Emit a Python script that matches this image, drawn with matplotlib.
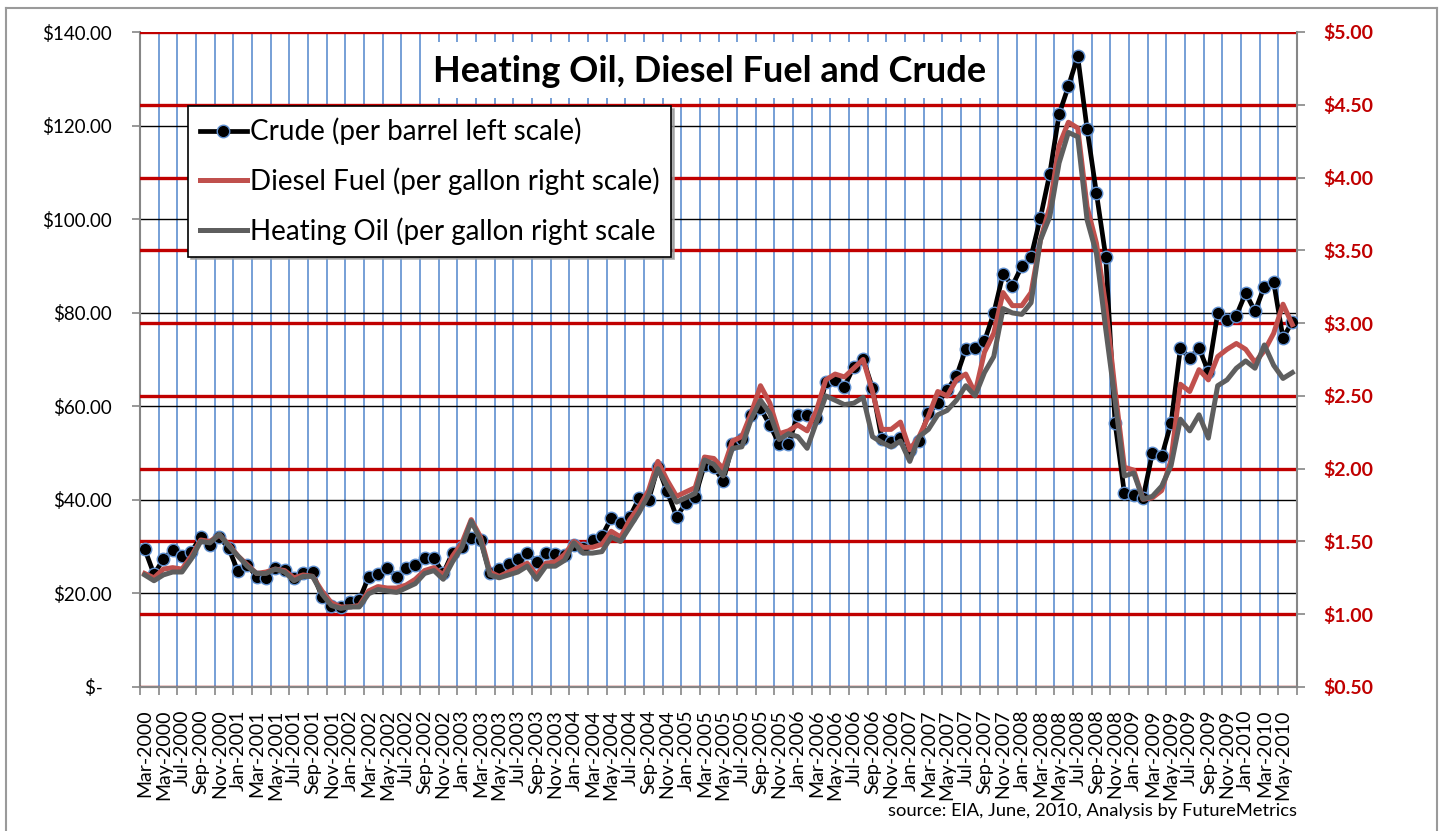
import matplotlib
matplotlib.use("Agg")
import matplotlib.pyplot as plt
from matplotlib.patches import Rectangle
from matplotlib.lines import Line2D
import pandas as pd
import numpy as np

plt.rcParams['font.family'] = ['Lato', 'DejaVu Sans']

# ---------------- data ----------------
months = list(pd.date_range('2000-03-01', periods=124, freq='MS').strftime('%b-%Y'))

crude = [29.5, 24.1, 27.3, 29.3, 27.9, 28.9, 32.0, 30.4, 32.0, 29.7,
         24.7, 26.1, 23.6, 23.4, 25.4, 25.0, 23.2, 24.3, 24.5, 19.3,
         17.3, 17.2, 18.2, 18.6, 23.5, 24.1, 25.4, 23.6, 25.4, 26.1,
         27.5, 27.5, 24.3, 28.7, 30.0, 31.8, 31.4, 24.3, 25.2, 26.3,
         27.3, 28.6, 26.8, 28.7, 28.4, 28.2, 30.4, 29.7, 31.4, 32.2,
         36.1, 35.1, 36.4, 40.4, 39.9, 47.0, 41.8, 36.4, 39.3, 40.7,
         47.5, 47.0, 44.0, 52.0, 53.0, 58.2, 59.6, 56.0, 52.0, 52.0,
         58.2, 58.2, 57.5, 65.1, 65.7, 64.2, 68.5, 70.1, 63.9, 53.0,
         52.3, 53.2, 50.7, 52.5, 58.5, 60.7, 63.5, 66.4, 72.2, 72.4,
         73.9, 79.9, 88.3, 85.8, 89.9, 92.0, 100.3, 109.7, 122.4, 128.4,
         134.8, 119.3, 105.6, 92.0, 56.5, 41.4, 41.0, 40.4, 50.0, 49.3,
         56.4, 72.4, 70.3, 72.4, 67.4, 79.9, 78.5, 79.4, 84.2, 80.3,
         85.6, 86.5, 74.6, 78.1]

diesel = [1.28, 1.25, 1.31, 1.32, 1.31, 1.40, 1.51, 1.50, 1.545, 1.48,
          1.40, 1.34, 1.28, 1.29, 1.31, 1.30, 1.25, 1.27, 1.26, 1.16,
          1.08, 1.05, 1.05, 1.06, 1.16, 1.19, 1.18, 1.18, 1.20, 1.24,
          1.30, 1.32, 1.27, 1.40, 1.49, 1.65, 1.53, 1.29, 1.26, 1.29,
          1.32, 1.35, 1.27, 1.35, 1.36, 1.41, 1.50, 1.46, 1.46, 1.48,
          1.57, 1.53, 1.65, 1.74, 1.85, 2.05, 1.92, 1.81, 1.84, 1.87,
          2.08, 2.07, 2.00, 2.19, 2.22, 2.38, 2.57, 2.45, 2.24, 2.26,
          2.30, 2.26, 2.40, 2.61, 2.65, 2.63, 2.69, 2.75, 2.53, 2.27,
          2.27, 2.32, 2.13, 2.22, 2.36, 2.53, 2.50, 2.61, 2.65, 2.52,
          2.80, 2.93, 3.21, 3.12, 3.12, 3.21, 3.57, 3.80, 4.22, 4.38,
          4.34, 3.80, 3.55, 3.12, 2.54, 2.01, 1.99, 1.79, 1.80, 1.85,
          2.06, 2.58, 2.53, 2.68, 2.61, 2.77, 2.82, 2.86, 2.82, 2.73,
          2.81, 2.93, 3.13, 2.99]

heating_oil = [1.27, 1.23, 1.27, 1.29, 1.29, 1.38, 1.50, 1.49, 1.55, 1.47,
               1.40, 1.33, 1.28, 1.28, 1.31, 1.29, 1.23, 1.26, 1.26, 1.14,
               1.06, 1.04, 1.05, 1.05, 1.14, 1.17, 1.16, 1.15, 1.18, 1.21,
               1.28, 1.30, 1.24, 1.36, 1.46, 1.64, 1.51, 1.27, 1.25, 1.27,
               1.29, 1.33, 1.24, 1.33, 1.33, 1.37, 1.49, 1.42, 1.42, 1.43,
               1.53, 1.50, 1.60, 1.70, 1.82, 2.00, 1.88, 1.77, 1.80, 1.83,
               2.06, 2.03, 1.95, 2.14, 2.15, 2.34, 2.47, 2.38, 2.20, 2.24,
               2.22, 2.14, 2.32, 2.50, 2.47, 2.44, 2.45, 2.49, 2.22, 2.18,
               2.15, 2.19, 2.05, 2.22, 2.27, 2.37, 2.40, 2.47, 2.57, 2.50,
               2.66, 2.77, 3.10, 3.07, 3.06, 3.14, 3.57, 3.73, 4.10, 4.31,
               4.28, 3.71, 3.48, 2.96, 2.47, 1.95, 1.97, 1.79, 1.81, 1.88,
               2.02, 2.34, 2.26, 2.37, 2.21, 2.57, 2.61, 2.69, 2.74, 2.69,
               2.85, 2.71, 2.62, 2.66]

left_ticks = [0, 20, 40, 60, 80, 100, 120, 140]
right_ticks = [0.5, 1.0, 1.5, 2.0, 2.5, 3.0, 3.5, 4.0, 4.5, 5.0]

title = "Heating Oil, Diesel Fuel and Crude"
labels = ["Crude (per barrel left scale)",
          "Diesel Fuel (per gallon right scale)",
          "Heating Oil (per gallon right scale"]
source = "source: EIA, June, 2010, Analysis by FutureMetrics"

# ---------------- styling ----------------
BLUE = '#5F8FCF'
RED_GRID = '#C00000'
DIESEL = '#C0504D'
HOIL = '#5E5E5E'
AXIS_GRAY = '#868686'

fig = plt.figure(figsize=(14.45, 8.31), dpi=100)
ax1 = fig.add_axes([140/1445, 1-687/831, (1297-140)/1445, (687-32)/831])
ax2 = ax1.twinx()

n = len(months)
x = np.arange(n)

# left axis (grid behind)
ax1.set_xlim(-0.5, n - 0.5)
ax1.set_ylim(0, 140)
ax1.set_yticks(left_ticks)
ax1.set_yticklabels(['$-  ' if v == 0 else f'${v:,.2f}' for v in left_ticks])
ax1.set_xticks(x[::2])
ax1.set_xticklabels(months[::2], rotation=90, fontsize=14)
ax1.set_xticks(np.arange(-0.5, n, 2), minor=True)
ax1.tick_params(axis='x', which='major', length=0, pad=16)
ax1.tick_params(axis='x', which='minor', length=6, color=AXIS_GRAY, width=1.2)
ax1.tick_params(axis='y', length=6, color=AXIS_GRAY, width=1.2, pad=14, labelsize=13.5)
ax1.grid(axis='x', which='minor', color=BLUE, lw=1.2)
ax1.grid(axis='y', which='major', color='black', lw=1.0)
for s in ['top', 'right']:
    ax1.spines[s].set_visible(False)
for s in ['left', 'bottom']:
    ax1.spines[s].set_color(AXIS_GRAY)
    ax1.spines[s].set_linewidth(1.5)

# right axis
ax2.set_ylim(0.5, 5.0)
ax2.set_yticks(right_ticks)
ax2.set_yticklabels([f'${v:.2f}' for v in right_ticks], color=RED_GRID,
                    fontweight='bold', fontsize=14)
ax2.tick_params(axis='y', length=6, color=AXIS_GRAY, width=1.2, pad=13)
ax2.grid(axis='y', color=RED_GRID, lw=2.4)
for s in ['top', 'left']:
    ax2.spines[s].set_visible(False)
ax2.spines['right'].set_color(AXIS_GRAY)
ax2.spines['right'].set_linewidth(1.5)
ax2.spines['bottom'].set_color(AXIS_GRAY)
ax2.spines['bottom'].set_linewidth(1.5)

# series (crude uses the left scale)
ax2.plot(x, crude, color='black', lw=3.4, marker='o', markersize=9,
         markerfacecolor='black', markeredgecolor=BLUE, markeredgewidth=1.0,
         transform=ax1.transData, label=labels[0], zorder=3)
ax2.plot(x, diesel, color=DIESEL, lw=3.6, label=labels[1], zorder=3.1)
ax2.plot(x, heating_oil, color=HOIL, lw=3.6, label=labels[2], zorder=3.2)
ax2.set_ylim(0.5, 5.0)
ax2.set_xlim(-0.5, n - 0.5)

# title box
ax2.add_patch(Rectangle((0.249, 0.899), 0.487, 0.086, transform=ax2.transAxes,
                        facecolor='white', edgecolor='none', zorder=5))
ax2.text(0.4925, 0.940, title, transform=ax2.transAxes, ha='center', va='center',
         fontsize=26, fontweight='bold', zorder=6)

# legend
leg = ax2.legend(loc='upper left', bbox_to_anchor=(0.0415, 0.887),
                 bbox_transform=ax2.transAxes, fontsize=20, frameon=True,
                 fancybox=False, shadow={'color': '#9a9a9a', 'alpha': 0.8},
                 handlelength=1.7, handletextpad=0.1, labelspacing=0.8,
                 borderpad=0.42, borderaxespad=0, numpoints=1)
leg.get_frame().set_edgecolor('black')
leg.get_frame().set_linewidth(1.2)
leg.set_zorder(7)

# source note
fig.text(1297/1445, 1-811/831, source, ha='right', va='center', fontsize=13.2)

# outer chart border
for (xs, ys) in [([6/1445, 6/1445], [0, 1-8/831]),
                 ([6/1445, 1437/1445], [1-8/831, 1-8/831]),
                 ([1437/1445, 1437/1445], [1-8/831, 0])]:
    fig.add_artist(Line2D(xs, ys, transform=fig.transFigure, color='#9a9a9a', lw=1.5))

fig.savefig('out.png', dpi=100)
